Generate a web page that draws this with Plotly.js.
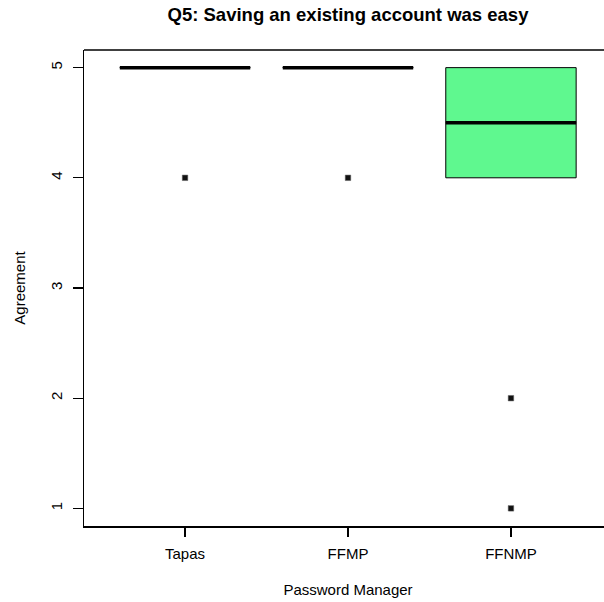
<!DOCTYPE html>
<html>
<head>
<meta charset="utf-8">
<script src="https://cdn.plot.ly/plotly-3.0.1.min.js"></script>
<style>html,body{margin:0;padding:0;overflow:hidden;background:#fff;width:604px;height:602px}</style>
</head>
<body>
<div id="chart" style="width:640px;height:602px"></div>
<script>
const categories = ["Tapas", "FFMP", "FFNMP"];
const q1 = [5, 5, 4];
const median = [5, 5, 4.5];
const q3 = [5, 5, 5];
const lowerWhisker = [5, 5, 4];
const upperWhisker = [5, 5, 5];
const boxFill = ["#ffffff", "#ffffff", "#5ff88f"];
const outlierCategory = ["Tapas", "FFMP", "FFNMP", "FFNMP"];
const outlierValue = [4, 4, 2, 1];
const yTicks = [1, 2, 3, 4, 5];

const traces = [];
categories.forEach((c, i) => {
  traces.push({
    type: "box", x: [c], q1: [q1[i]], median: [median[i]], q3: [q3[i]],
    lowerfence: [lowerWhisker[i]], upperfence: [upperWhisker[i]],
    fillcolor: boxFill[i], line: {color: "#000", width: 1},
    whiskerwidth: 0, width: 0.8, boxpoints: false, showlegend: false, hoverinfo: "skip"
  });
  traces.push({
    type: "box", x: [c], q1: [median[i]], median: [median[i]], q3: [median[i]],
    lowerfence: [median[i]], upperfence: [median[i]],
    fillcolor: "rgba(0,0,0,0)", line: {color: "#000", width: 3.5},
    whiskerwidth: 0, width: 0.8, boxpoints: false, showlegend: false, hoverinfo: "skip"
  });
});
traces.push({
  type: "scatter", mode: "markers", x: outlierCategory, y: outlierValue,
  marker: {symbol: "square", size: 5.5, color: "#111", line: {color: "#666", width: 0.5}},
  showlegend: false, hoverinfo: "skip"
});

const FONT = "Liberation Sans, Arial, sans-serif";
const layout = {
  width: 640, height: 602,
  margin: {l: 84, r: 28, t: 50, b: 76},
  paper_bgcolor: "#fff", plot_bgcolor: "#fff",
  boxmode: "overlay",
  font: {family: FONT, color: "#000", size: 15},
  title: {text: "<b>Q5: Saving an existing account was easy</b>", xref: "paper", x: 0.5, xanchor: "center",
          y: 1 - 15/602, yanchor: "middle", font: {size: 18.5, family: FONT, color: "#000"}},
  xaxis: {
    type: "category", categoryorder: "array", categoryarray: categories,
    range: [-0.62, 2.62], showgrid: false, zeroline: false,
    showline: true, linecolor: "#000", linewidth: 1.5,
    ticks: "outside", ticklen: 9, tickcolor: "#000", tickwidth: 1.2,
    ticklabelstandoff: 4, tickfont: {size: 15},
    title: {text: "Password Manager", standoff: 24, font: {size: 15}}
  },
  yaxis: {
    range: [0.84, 5.16], tickvals: yTicks, ticktext: yTicks.map(String),
    tickangle: -90, showgrid: false, zeroline: false,
    showline: true, linecolor: "#000", linewidth: 1.5,
    ticks: "outside", ticklen: 10, tickcolor: "#000", tickwidth: 1.2,
    ticklabelstandoff: 5, tickfont: {size: 15},
    title: {text: "Agreement", standoff: 18, font: {size: 15}}
  },
  shapes: [{type: "line", xref: "paper", yref: "paper", x0: 0, x1: 1, y0: 1, y1: 1,
            line: {color: "#000", width: 1.5}}]
};
Plotly.newPlot("chart", traces, layout, {displayModeBar: false, staticPlot: true});
</script>
</body>
</html>
